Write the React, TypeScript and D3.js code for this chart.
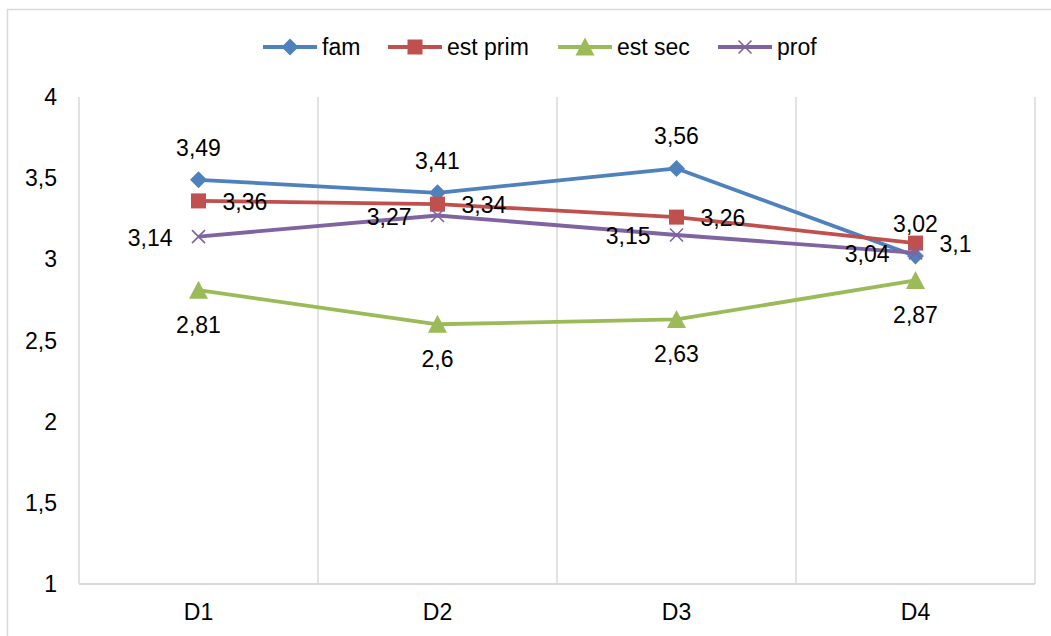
import React from "react";
import * as d3 from "d3";

const categories = ["D1", "D2", "D3", "D4"];
const seriesNames = ["fam", "est prim", "est sec", "prof"];
const famValues = [3.49, 3.41, 3.56, 3.02];
const estPrimValues = [3.36, 3.34, 3.26, 3.1];
const estSecValues = [2.81, 2.6, 2.63, 2.87];
const profValues = [3.14, 3.27, 3.15, 3.04];
const yTicks = [1, 1.5, 2, 2.5, 3, 3.5, 4];

const W = 1051;
const H = 636;
const plot = { left: 79, right: 1035, top: 97, bottom: 584 };
const FONT = "'Liberation Sans', Arial, sans-serif";
const FS = 23;
const LINE_W = 3.8;

type Pos = "above" | "right" | "below" | "left";
type Marker = "diamond" | "square" | "triangle" | "x";

const series: { name: string; values: number[]; color: string; marker: Marker; pos: Pos }[] = [
  { name: seriesNames[0], values: famValues, color: "#4F81BD", marker: "diamond", pos: "above" },
  { name: seriesNames[1], values: estPrimValues, color: "#C0504D", marker: "square", pos: "right" },
  { name: seriesNames[2], values: estSecValues, color: "#9BBB59", marker: "triangle", pos: "below" },
  { name: seriesNames[3], values: profValues, color: "#8064A2", marker: "x", pos: "left" },
];

const fmt = (v: number) => String(v).replace(".", ",");

function MarkerShape({ kind, x, y, color }: { kind: Marker; x: number; y: number; color: string }) {
  if (kind === "diamond") {
    const s = 8.5;
    return <path d={`M${x},${y - s}L${x + s},${y}L${x},${y + s}L${x - s},${y}Z`} fill={color} />;
  }
  if (kind === "square") {
    const s = 7.5;
    return <rect x={x - s} y={y - s} width={2 * s} height={2 * s} fill={color} />;
  }
  if (kind === "triangle") {
    const s = 8.5;
    return <path d={`M${x},${y - s - 1}L${x + s + 1},${y + s}L${x - s - 1},${y + s}Z`} fill={color} />;
  }
  const s = 6.5;
  return (
    <path
      d={`M${x - s},${y - s}L${x + s},${y + s}M${x - s},${y + s}L${x + s},${y - s}`}
      stroke={color}
      strokeWidth={1.6}
      fill="none"
    />
  );
}

export default function App() {
  const x = d3.scaleBand<string>().domain(categories).range([plot.left, plot.right]);
  const y = d3.scaleLinear().domain([1, 4]).range([plot.bottom, plot.top]);
  const cx = (c: string) => (x(c) ?? 0) + x.bandwidth() / 2;
  const line = d3
    .line<number>()
    .x((_, i) => cx(categories[i]))
    .y((v) => y(v));

  const boundaries = [...categories.map((c) => x(c) ?? 0), plot.right];

  // legend layout
  const legendItems = [
    { lineX: 263, textX: 322 },
    { lineX: 388, textX: 447 },
    { lineX: 558, textX: 617 },
    { lineX: 718, textX: 777 },
  ];
  const legendY = 47;

  return (
    <svg
      width={W}
      height={H}
      style={{ position: "absolute", left: 0, top: 0, background: "#fff" }}
      fontFamily={FONT}
    >
      <rect x={0} y={0} width={W} height={H} fill="#fff" />
      <rect x={7.5} y={9.5} width={W + 20} height={H + 20} fill="none" stroke="#d9d9d9" strokeWidth={1.5} />

      {/* vertical gridlines at category boundaries */}
      {boundaries.map((bx, i) => (
        <line key={i} x1={bx} x2={bx} y1={plot.top} y2={plot.bottom} stroke="#d9d9d9" strokeWidth={1.5} />
      ))}
      <line x1={plot.left} x2={plot.right} y1={plot.bottom} y2={plot.bottom} stroke="#d9d9d9" strokeWidth={2} />

      {/* y-axis labels */}
      {yTicks.map((t) => (
        <text key={t} x={57} y={y(t)} textAnchor="end" dominantBaseline="central" fontSize={FS} fill="#000">
          {fmt(t)}
        </text>
      ))}

      {/* x-axis labels */}
      {categories.map((c) => (
        <text key={c} x={cx(c)} y={612} textAnchor="middle" dominantBaseline="central" fontSize={FS} fill="#000">
          {c}
        </text>
      ))}

      {/* series lines and markers */}
      {series.map((s) => (
        <g key={s.name}>
          <path d={line(s.values) ?? ""} fill="none" stroke={s.color} strokeWidth={LINE_W} strokeLinejoin="round" />
          {s.values.map((v, i) => (
            <MarkerShape key={i} kind={s.marker} x={cx(categories[i])} y={y(v)} color={s.color} />
          ))}
        </g>
      ))}

      {/* data labels */}
      {series.map((s) =>
        s.values.map((v, i) => {
          const px = cx(categories[i]);
          const py = y(v);
          let tx = px;
          let ty = py;
          let anchor: "start" | "middle" | "end" = "middle";
          if (s.pos === "above") ty = py - 32;
          else if (s.pos === "below") ty = py + 35;
          else if (s.pos === "right") {
            tx = px + 24;
            anchor = "start";
            ty = py + 1;
          } else {
            tx = px - 26;
            anchor = "end";
            ty = py + 1;
          }
          return (
            <text
              key={`${s.name}-${i}`}
              x={tx}
              y={ty}
              textAnchor={anchor}
              dominantBaseline="central"
              fontSize={FS}
              fill="#000"
            >
              {fmt(v)}
            </text>
          );
        })
      )}

      {/* legend */}
      {series.map((s, i) => {
        const li = legendItems[i];
        return (
          <g key={s.name}>
            <line x1={li.lineX} x2={li.lineX + 54} y1={legendY} y2={legendY} stroke={s.color} strokeWidth={LINE_W} />
            <MarkerShape kind={s.marker} x={li.lineX + 27} y={legendY} color={s.color} />
            <text x={li.textX} y={legendY} dominantBaseline="central" fontSize={FS} fill="#000">
              {s.name}
            </text>
          </g>
        );
      })}
    </svg>
  );
}
